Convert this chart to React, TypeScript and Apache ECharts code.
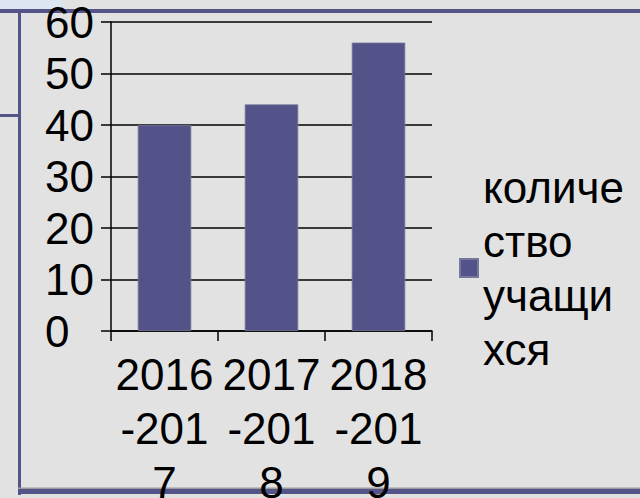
import React, { useEffect, useRef } from "react";
import * as echarts from "echarts";

const categories = ["2016-2017", "2017-2018", "2018-2019"];
const values = [40, 44, 56];
const seriesName = "количество учащихся";
const legendLines = ["количе", "ство", "учащи", "хся"];
const yMin = 0;
const yMax = 60;
const yInterval = 10;

export default function App() {
  const ref = useRef<HTMLDivElement>(null);
  useEffect(() => {
    document.body.style.margin = "0";
    const chart = echarts.init(ref.current!, null, { renderer: "svg" });
    const font = "'Liberation Sans', Arial, sans-serif";
    const barColor = "#53538a";
    const frameColor = "#545488";
    chart.setOption({
      animation: false,
      backgroundColor: "#e2e2e2",
      grid: { left: 111, right: 208, top: 22, bottom: 167, containLabel: false, outerBoundsMode: "none" },
      legend: {
        orient: "vertical",
        left: 459,
        top: 160,
        padding: 0,
        itemWidth: 18,
        itemHeight: 18,
        icon: "rect",
        data: [seriesName],
        formatter: () => legendLines.join("\n"),
        textStyle: { fontSize: 44, lineHeight: 54, fontFamily: font, color: "#000" },
      },
      xAxis: {
        type: "category",
        data: categories,
        boundaryGap: true,
        axisLine: { lineStyle: { color: "#000", width: 1.5 } },
        axisTick: { show: true, length: 10, alignWithLabel: false, lineStyle: { color: "#000", width: 1.5 } },
        axisLabel: {
          interval: 0,
          margin: 16,
          fontSize: 44,
          lineHeight: 54,
          fontFamily: font,
          color: "#000",
          formatter: (v: string) => (v.match(/.{1,4}/g) || [v]).join("\n"),
        },
      },
      yAxis: {
        type: "value",
        min: yMin,
        max: yMax,
        interval: yInterval,
        axisLine: { show: true, lineStyle: { color: "#000", width: 1.5 } },
        axisTick: { show: true, length: 10, lineStyle: { color: "#000", width: 1.5 } },
        splitLine: { show: true, lineStyle: { color: "#000", width: 1.5 } },
        axisLabel: {
          margin: 66,
          align: "left",
          fontSize: 44,
          lineHeight: 36,
          fontFamily: font,
          color: "#000",
        },
      },
      series: [
        {
          name: seriesName,
          type: "bar",
          data: values,
          barWidth: "50%",
          itemStyle: { color: barColor, borderColor: "#77779a", borderWidth: 0.8 },
        },
      ],
      graphic: [
        { type: "rect", z: -1, shape: { x: 0, y: 0, width: 62, height: 9 }, style: { fill: "#dce6f2" } },
        { type: "rect", z: -1, shape: { x: 0, y: 9, width: 640, height: 4 }, style: { fill: frameColor } },
        { type: "rect", z: -1, shape: { x: 18, y: 9, width: 3, height: 486 }, style: { fill: frameColor } },
        { type: "rect", z: -1, shape: { x: 0, y: 114, width: 18, height: 3 }, style: { fill: frameColor } },
        { type: "rect", z: -1, shape: { x: 18, y: 487.5, width: 622, height: 1.5 }, style: { fill: "#9a9a9a" } },
        { type: "rect", z: -1, shape: { x: 18, y: 489, width: 622, height: 5 }, style: { fill: frameColor } },
      ],
    });
    return () => chart.dispose();
  }, []);
  return <div ref={ref} style={{ position: "fixed", left: 0, top: 0, width: 640, height: 498 }} />;
}
